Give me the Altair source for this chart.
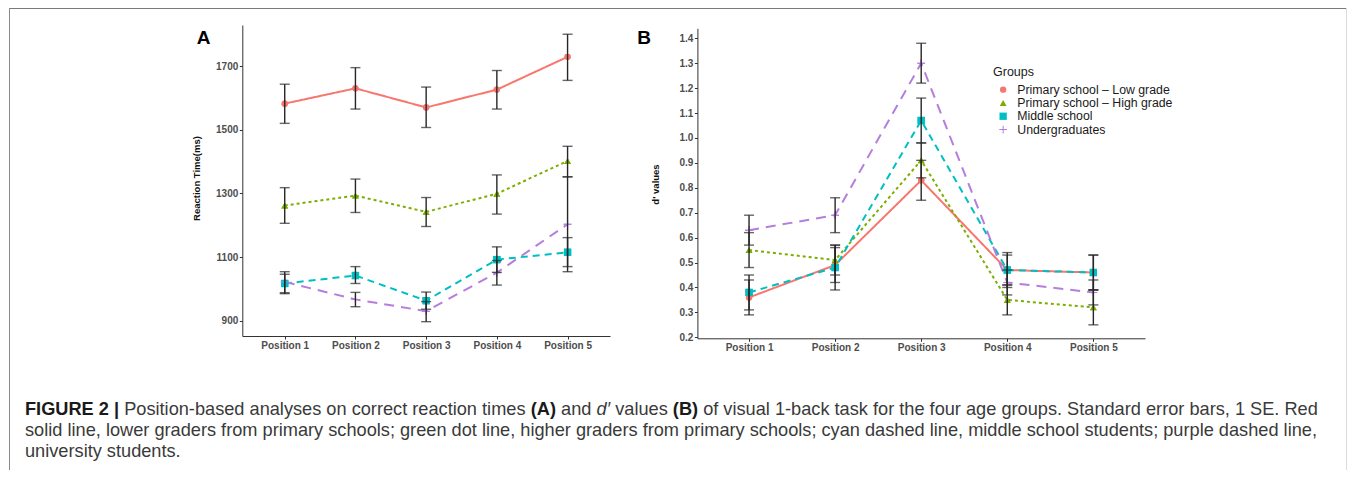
import altair as alt
import pandas as pd

# ---------------- data ----------------
groups = ["Primary school – Low grade", "Primary school – High grade",
          "Middle school", "Undergraduates"]
positions = ["Position 1", "Position 2", "Position 3", "Position 4", "Position 5"]

# Panel A : reaction time (ms), mean and +/- 1 SE bounds
rt_low_mean = [1582, 1630, 1570, 1626, 1729]
rt_low_lo = [1520, 1565, 1507, 1565, 1655]
rt_low_hi = [1643, 1695, 1634, 1686, 1800]
rt_high_mean = [1262, 1293, 1242, 1299, 1402]
rt_high_lo = [1206, 1240, 1196, 1235, 1352]
rt_high_hi = [1318, 1345, 1287, 1358, 1448]
rt_mid_mean = [1017, 1042, 963, 1092, 1115]
rt_mid_lo = [988, 1017, 936, 1052, 1070]
rt_mid_hi = [1046, 1070, 990, 1132, 1161]
rt_ug_mean = [1022, 967, 930, 1051, 1203]
rt_ug_lo = [985, 944, 897, 1012, 1054]
rt_ug_hi = [1054, 989, 960, 1089, 1352]

# Panel B : d' values, mean and +/- 1 SE bounds
dp_low_mean = [0.36, 0.49, 0.83, 0.47, 0.46]
dp_low_lo = [0.29, 0.42, 0.75, 0.41, 0.39]
dp_low_hi = [0.43, 0.56, 0.91, 0.53, 0.53]
dp_high_mean = [0.55, 0.51, 0.91, 0.35, 0.32]
dp_high_lo = [0.48, 0.45, 0.84, 0.29, 0.25]
dp_high_hi = [0.62, 0.57, 0.98, 0.41, 0.39]
dp_mid_mean = [0.38, 0.48, 1.07, 0.47, 0.46]
dp_mid_lo = [0.31, 0.39, 0.98, 0.40, 0.39]
dp_mid_hi = [0.45, 0.57, 1.16, 0.54, 0.53]
dp_ug_mean = [0.63, 0.69, 1.30, 0.42, 0.38]
dp_ug_lo = [0.57, 0.62, 1.22, 0.37, 0.33]
dp_ug_hi = [0.69, 0.76, 1.38, 0.47, 0.43]

rt_ticks = [900, 1100, 1300, 1500, 1700]
dp_ticks = [0.2, 0.3, 0.4, 0.5, 0.6, 0.7, 0.8, 0.9, 1.0, 1.1, 1.2, 1.3, 1.4]

caption_line1 = [
    ("FIGURE 2 |", "bold", "normal"),
    ("Position-based analyses on correct reaction times", "normal", "normal"),
    ("(A)", "bold", "normal"),
    ("and", "normal", "normal"),
    ("d\u2032", "normal", "italic"),
    ("values", "normal", "normal"),
    ("(B)", "bold", "normal"),
    ("of visual 1-back task for the four age groups. Standard error bars, 1 SE. Red", "normal", "normal"),
]
caption_line2 = ("solid line, lower graders from primary schools; green dot line, higher graders "
                 "from primary schools; cyan dashed line, middle school students; purple dashed line,")
caption_line3 = "university students."


def long_table(means, los, his):
    rows = []
    for g, m, l, h in zip(groups, means, los, his):
        for p, mv, lv, hv in zip(positions, m, l, h):
            rows.append({"group": g, "position": p, "value": mv, "lo": lv, "hi": hv})
    return pd.DataFrame(rows)


df_a = long_table([rt_low_mean, rt_high_mean, rt_mid_mean, rt_ug_mean],
                  [rt_low_lo, rt_high_lo, rt_mid_lo, rt_ug_lo],
                  [rt_low_hi, rt_high_hi, rt_mid_hi, rt_ug_hi])
df_b = long_table([dp_low_mean, dp_high_mean, dp_mid_mean, dp_ug_mean],
                  [dp_low_lo, dp_high_lo, dp_mid_lo, dp_ug_lo],
                  [dp_low_hi, dp_high_hi, dp_mid_hi, dp_ug_hi])

# ---------------- styles ----------------
FONT = "Liberation Sans"
PLUS = "M-1,-0.13H-0.13V-1H0.13V-0.13H1V0.13H0.13V1H-0.13V0.13H-1Z"
colors = ["#F8766D", "#7CAE00", "#00BFC4", "#B57EDC"]
shapes = ["circle", "triangle-up", "square", PLUS]
sizes = [40, 60, 40, 100]
dashes = [[1, 0], [3, 3], [7, 5], [10, 7]]

color_scale = alt.Scale(domain=groups, range=colors)
legend = alt.Legend(title="Groups", orient="none", legendX=985, legendY=58,
                    symbolStrokeWidth=0)


def panel(df, xrange, ydomain, yrange, yvalues, yformat, ytitle,
          x_off, y_off, title_x, title_y):
    xenc = alt.X("position:N", sort=positions,
                 scale=alt.Scale(type="point", domain=positions, range=xrange, padding=0.6),
                 axis=alt.Axis(orient="bottom", offset=x_off, labelAngle=0), title=None)
    yscale = alt.Scale(domain=ydomain, range=yrange, nice=False, zero=False)
    yaxis = alt.Axis(orient="left", offset=y_off, values=yvalues, format=yformat,
                     titleX=title_x, titleY=title_y)
    base = alt.Chart(df)
    points = base.mark_point(filled=True, opacity=1).encode(
        x=xenc,
        y=alt.Y("value:Q", scale=yscale, axis=yaxis, title=ytitle),
        color=alt.Color("group:N", scale=color_scale, legend=legend),
        shape=alt.Shape("group:N", scale=alt.Scale(domain=groups, range=shapes), legend=legend),
        size=alt.Size("group:N", scale=alt.Scale(domain=groups, range=sizes), legend=legend),
    )
    lines = base.mark_line(strokeWidth=2).encode(
        x=xenc,
        y=alt.Y("value:Q", scale=yscale, axis=yaxis, title=ytitle),
        color=alt.Color("group:N", scale=color_scale, legend=legend),
        strokeDash=alt.StrokeDash("group:N", scale=alt.Scale(domain=groups, range=dashes), legend=None),
    )
    errs = base.mark_errorbar(ticks=True, size=10, thickness=1.4, color="#262626").encode(
        x=xenc,
        y=alt.Y("lo:Q", scale=yscale, axis=yaxis, title=ytitle),
        y2="hi:Q",
    )
    return alt.layer(points, lines, points, errs)


W, H = 1339, 462

panel_a = panel(df_a, [234.3, 602.0], [852, 1829], [328, 17], rt_ticks, "d",
                "Reaction Time(ms)", 328 - H, -234.3, -40.5, 170)
panel_b = panel(df_b, [689.4, 1137.0], [0.196, 1.44], [330.3, 20.3], dp_ticks, ".1f",
                "d' values", 330.3 - H, -689.4, -37, 176)

# ---------------- text annotations ----------------
REG_W = {' ': 278, '!': 278, '(': 333, ')': 333, ',': 278, '-': 333, '.': 278, ';': 278,
         ':': 278, '|': 260, '–': 556, '\u2032': 191, "'": 191}
for ch in "0123456789":
    REG_W[ch] = 556
REG_W.update(dict(zip("ABCDEFGHIJKLMNOPQRSTUVWXYZ",
                      [667, 667, 722, 722, 667, 611, 778, 722, 278, 500, 667, 556, 833,
                       722, 778, 667, 778, 722, 667, 611, 722, 667, 944, 667, 667, 611])))
REG_W.update(dict(zip("abcdefghijklmnopqrstuvwxyz",
                      [556, 556, 500, 556, 556, 278, 556, 556, 222, 222, 500, 222, 833,
                       556, 556, 556, 556, 333, 500, 278, 556, 500, 722, 500, 500, 500])))
BOLD_W = dict(REG_W)
BOLD_W.update({'A': 722, 'B': 722, 'E': 667, 'F': 611, 'G': 778, 'I': 278, 'R': 722,
               'U': 722, '|': 280})


def text_width(s, bold=False):
    tbl = BOLD_W if bold else REG_W
    return sum(tbl.get(ch, 556) for ch in s) / 1000.0


def label(txt, x, y, size, weight="normal", style="normal", color="#333333",
          align="left", baseline="alphabetic"):
    return alt.Chart(pd.DataFrame({"t": [txt]})).mark_text(
        align=align, baseline=baseline, fontSize=size, fontWeight=weight,
        fontStyle=style, color=color, font=FONT,
    ).encode(text="t:N", x=alt.value(x), y=alt.value(y))


texts = [
    label("A", 188.7, 36, 19, weight="bold", color="#000000"),
    label("B", 629.3, 36, 19, weight="bold", color="#000000"),
]

CAP_FS = 18.2
cap_x0 = 17
y1, y2, y3 = 407, 428, 449
x = cap_x0
for seg, wgt, sty in caption_line1:
    texts.append(label(seg, x, y1, CAP_FS, weight=wgt, style=sty,
                       color="#1a1a1a" if wgt == "bold" else "#3a3a3a"))
    x += (text_width(seg, wgt == "bold") + text_width(" ")) * CAP_FS
texts.append(label(caption_line2, cap_x0, y2, CAP_FS, color="#3a3a3a"))
texts.append(label(caption_line3, cap_x0, y3, CAP_FS, color="#3a3a3a"))

frame_df = pd.DataFrame({"k": [0]})
frame = [
    alt.Chart(frame_df).mark_rule(color="#7a7a7a", strokeWidth=1).encode(
        x=alt.value(1), x2=alt.value(W), y=alt.value(0.5)),
    alt.Chart(frame_df).mark_rule(color="#8a8a8a", strokeWidth=1).encode(
        x=alt.value(1.5), y=alt.value(0), y2=alt.value(H)),
    alt.Chart(frame_df).mark_rule(color="#dcdcdc", strokeWidth=1).encode(
        x=alt.value(W - 0.5), y=alt.value(0), y2=alt.value(H)),
]

chart = alt.layer(panel_a, panel_b, *texts, *frame).resolve_scale(
    x="independent", y="independent"
).properties(
    width=W, height=H, autosize=alt.AutoSizeParams(type="none"), padding=0
).configure(
    font=FONT
).configure_view(
    strokeWidth=0
).configure_axis(
    grid=False, domainColor="#333333", domainWidth=1, tickColor="#333333", tickWidth=1,
    tickSize=3, labelFont=FONT, labelFontSize=10, labelFontWeight="bold",
    labelColor="#4d4d4d", labelPadding=1.5, titleFont=FONT, titleFontSize=9.5,
    titleFontWeight="bold", titleColor="#111111",
).configure_legend(
    titleFont=FONT, titleFontSize=12.5, titleFontWeight="normal", titleColor="#1a1a1a",
    labelFont=FONT, labelFontSize=12.3, labelColor="#1a1a1a", symbolSize=45,
    rowPadding=0.3, padding=0, titlePadding=5, labelOffset=8, symbolOffset=4,
)

chart.save("out.html", embed_options={"renderer": "svg", "actions": False})
